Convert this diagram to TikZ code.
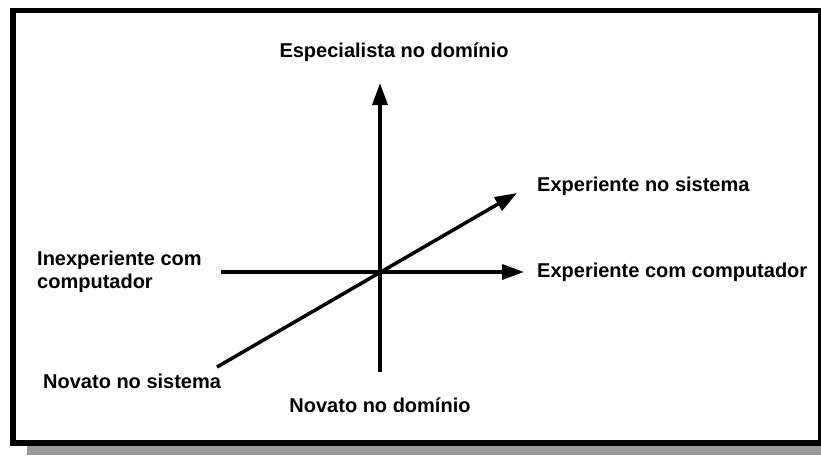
\documentclass[tikz,border=0pt]{standalone}
\usepackage{fontspec}
\setmainfont{Liberation Sans}
\usetikzlibrary{arrows.meta}
\begin{document}
\begin{tikzpicture}[x=1pt,y=-1pt,
  lbl/.style={font=\bfseries\fontsize{20}{22.5}\selectfont,inner sep=0pt},
  axis/.style={line width=3.5pt,-{Triangle[length=22pt,width=15pt]}},
  plain/.style={line width=3.5pt}]
\clip (0,0) rectangle (821,455);
\useasboundingbox (0,0) rectangle (821,455);
% shadow and frame
\fill[gray!80] (27,20) rectangle (840,455);
\draw[line width=5.5pt,fill=white] (13,10.5) rectangle (820.5,443);
% axis points
\coordinate (c) at (380,272);
\coordinate (vb) at (380,372);
\coordinate (vt) at (380,83);
\coordinate (hl) at (221,272);
\coordinate (hr) at (524,272);
\coordinate (dl) at (217,367);
\coordinate (dr) at (517,193);
\draw[axis] (vb) -- (vt);
\draw[axis] (hl) -- (hr);
\draw[axis] (dl) -- (dr);
% labels
\node[lbl] (esp) at (394,52) {Especialista no domínio};
\node[lbl,anchor=west] (expsis) at (537,186) {Experiente no sistema};
\node[lbl,anchor=west,align=left] (inexp) at (37,272) {Inexperiente com\\computador};
\node[lbl,anchor=west] (expcomp) at (537,272) {Experiente com computador};
\node[lbl,anchor=west] (novsis) at (43,381) {Novato no sistema};
\node[lbl] (novdom) at (380,405) {Novato no domínio};
\end{tikzpicture}
\end{document}
